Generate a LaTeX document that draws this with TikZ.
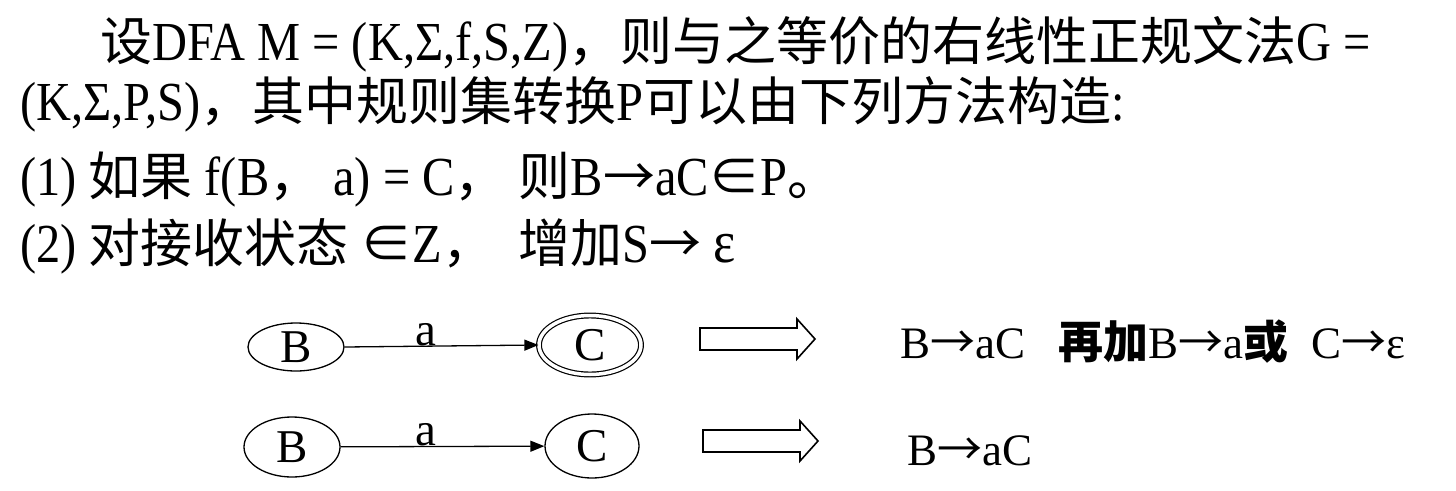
\documentclass[tikz,border=0pt]{standalone}
\usepackage{fontspec}
\setmainfont{Liberation Serif}
\newfontfamily\tallserif[FakeStretch=0.88]{Liberation Serif}
\newfontfamily\cjk{Noto Sans CJK SC}
\usetikzlibrary{arrows.meta,shapes.geometric}
\newcommand{\ra}{{\cjk →}}
\tikzset{
  dfastate/.style={draw, ellipse, line width=1.3pt, inner sep=0pt, font=\fontsize{47}{50}\selectfont},
  accept/.style={dfastate, double, double distance=3.5pt, line width=1.2pt},
  trans/.style={line width=1.3pt, -{Triangle[length=14pt,width=11pt]}},
  edgelabel/.style={above, inner sep=0pt, font=\fontsize{47}{50}\selectfont},
  bigtext/.style={anchor=base west, inner sep=0pt, font=\fontsize{55}{60}\tallserif},
  ruletext/.style={anchor=base west, inner sep=0pt, font=\fontsize{45}{50}\selectfont},
  blockarrow/.style={draw, line width=1.6pt, fill=white, line join=miter}
}
\newcommand{\cj}[1]{{\fontsize{52}{60}\cjk #1}}
\newcommand{\blockarr}[1]{%
  \draw[blockarrow] (#1) -- ++(97,0) -- ++(0,-9) -- ++(18,20) -- ++(-18,20) -- ++(0,-9) -- ++(-97,0) -- cycle;}
\begin{document}
\begin{tikzpicture}[x=1pt,y=-1pt]
\useasboundingbox (0,0) rectangle (1456,490);

\node[bigtext] (l1) at (100,60) {\cj{设}DFA M = (K,Σ,f,S,Z)\cj{，则与之等价的右线性正规文法}G =};
\node[bigtext] (l2) at (20,120) {(K,Σ,P,S)\cj{，其中规则集转换}P\cj{可以由下列方法构造}:};
\node[bigtext] (l3) at (20,195) {(1) \cj{如果} f(B\cj{，} a) = C\cj{，} \cj{则}B\cj{→}aC\cj{∈}P\cj{。}};
\node[bigtext] (l4) at (20,262) {(2) \cj{对接收状态} \cj{∈}Z\cj{，} \ \cj{增加}S\cj{→} {\fontsize{60}{60}\selectfont ε}};

\node[dfastate, minimum width=96pt, minimum height=48pt] (B1) at (296,347) {B};
\node[accept, minimum width=102pt, minimum height=59pt] (C1) at (590,345) {C};
\draw[trans] (B1.east) -- node[edgelabel, pos=0.42] (a1) {a} (C1.west);

\node[dfastate, minimum width=96pt, minimum height=60pt] (B2) at (292,447) {B};
\node[dfastate, minimum width=94pt, minimum height=64pt] (C2) at (592,446) {C};
\draw[trans] (B2) -- node[edgelabel, pos=0.42] (a2) {a} (C2);

\coordinate (ba1) at (700,328);
\coordinate (ba2) at (703,430);
\blockarr{ba1}
\blockarr{ba2}

\node[ruletext] (r1) at (900,358) {B\ra aC\ \ \ {\cjk\bfseries 再加}B\ra a{\cjk\bfseries 或}\ \ C\ra ε};
\node[ruletext] (r2) at (907,465) {B\ra aC};
\end{tikzpicture}
\end{document}
